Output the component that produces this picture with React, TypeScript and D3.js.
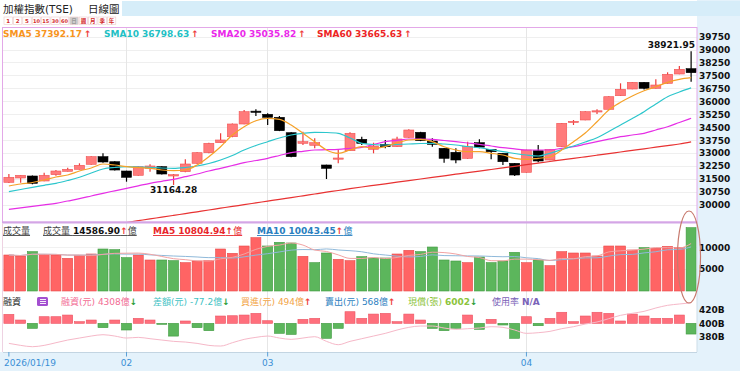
import React, { useEffect, useRef } from "react";
import * as d3 from "d3";

// 加權指數 日K，2026/01/19 起共 59 根
const opens = [31318, 31568, 31684, 31394, 31760, 31957, 32073, 32363, 32805, 32514, 31974, 31725, 32131, 32224, 31684, 31934, 32421, 33037, 33618, 33966, 34704, 35450, 35267, 35093, 34198, 33583, 33467, 32323, 32689, 33153, 33815, 33234, 33525, 33386, 33931, 34222, 33716, 33293, 33060, 32712, 33618, 33234, 33002, 32421, 31899, 33153, 32613, 33386, 34820, 34936, 35441, 35557, 36347, 36736, 37125, 36777, 37067, 37607, 37915];
const highs = [31800, 31740, 31713, 31876, 32032, 32166, 32421, 32830, 33002, 32540, 31990, 32250, 32363, 32250, 31800, 32654, 33060, 33610, 34164, 34730, 35517, 35557, 35325, 35168, 34220, 34257, 33873, 32340, 33194, 34222, 33966, 33618, 33775, 33966, 34396, 34250, 33873, 33310, 33293, 33676, 33815, 33250, 33020, 32440, 33210, 33484, 33250, 34760, 34936, 35440, 35557, 36310, 37067, 37140, 37140, 37299, 37706, 38072, 38921.95];
const lows = [31278, 31295, 31202, 31380, 31701, 31940, 32060, 32340, 32456, 32000, 31353, 31700, 31934, 31770, 31164.28, 31900, 32400, 33010, 33600, 33940, 34690, 35168, 34646, 34290, 32780, 33484, 33293, 31510, 32421, 33130, 33484, 33002, 33293, 33370, 33910, 33710, 33386, 32456, 32421, 32690, 33293, 32654, 32323, 31684, 31880, 32480, 32600, 33370, 34646, 34920, 35284, 35540, 36330, 36720, 36700, 36760, 37050, 37590, 37160];
const closes = [31609, 31725, 31260, 31725, 31974, 32073, 32305, 32805, 32497, 32032, 31609, 32224, 32265, 31800, 31760, 32381, 33037, 33583, 33775, 34704, 35418, 35430, 35093, 34315, 32805, 33676, 33618, 32131, 32729, 34164, 33583, 33426, 33386, 33833, 34355, 33734, 33525, 32712, 32613, 33386, 33360, 33095, 32514, 31742, 33194, 32555, 33234, 34744, 34860, 35418, 35470, 36289, 36719, 37125, 36777, 36968, 37590, 37880, 37683];

const sma5 = [31103, 31219, 31307, 31452, 31626, 31742, 31974, 32149, 32381, 32323, 32224, 32166, 32131, 32032, 31992, 32032, 32323, 32805, 33386, 34065, 34547, 34895, 35035, 34977, 34646, 34164, 33676, 33194, 33002, 33194, 33386, 33293, 33386, 33618, 33775, 33815, 33676, 33386, 33194, 33095, 33095, 33002, 32904, 32712, 32654, 32712, 32787, 33194, 33676, 34181, 34837, 35517, 35964, 36330, 36637, 36870, 37125, 37299, 37392.17];
const sma10 = [30772, 30900, 31028, 31144, 31260, 31423, 31609, 31858, 32091, 32178, 32224, 32207, 32189, 32149, 32131, 32178, 32265, 32410, 32613, 32874, 33194, 33455, 33676, 33891, 34065, 34164, 34222, 34210, 34164, 33891, 33583, 33513, 33484, 33513, 33542, 33571, 33583, 33542, 33484, 33397, 33327, 33211, 33095, 32991, 32904, 32845, 33002, 33223, 33426, 33658, 33908, 34268, 34646, 35023, 35418, 35865, 36289, 36562, 36798.63];
const sma20 = [29750, 29837, 29925, 30012, 30099, 30232, 30366, 30523, 30679, 30825, 30970, 31115, 31260, 31376, 31492, 31643, 31800, 31974, 32131, 32294, 32456, 32584, 32712, 32874, 33037, 33118, 33194, 33211, 33234, 33293, 33351, 33513, 33676, 33757, 33833, 33833, 33815, 33746, 33676, 33600, 33525, 33426, 33327, 33264, 33194, 33194, 33194, 33293, 33386, 33531, 33676, 33821, 33966, 34065, 34164, 34355, 34547, 34791, 35035.82];
const sma60 = [27939, 28043, 28148, 28252, 28357, 28461, 28566, 28670, 28775, 28879, 28984, 29088, 29193, 29292, 29396, 29501, 29605, 29710, 29814, 29919, 30017, 30122, 30226, 30331, 30430, 30534, 30639, 30743, 30842, 30947, 31045, 31138, 31231, 31324, 31417, 31510, 31603, 31696, 31789, 31881, 31969, 32061, 32154, 32247, 32340, 32433, 32526, 32619, 32706, 32799, 32892, 32985, 33078, 33171, 33264, 33356, 33449, 33542, 33665.63];

// 成交量 (億)，漲=1 跌=0
const volumes = [8294, 8064, 9062, 8448, 8294, 7526, 8141, 8525, 9677, 9523, 7680, 8294, 7142, 7142, 6989, 6528, 6912, 6989, 9677, 8678, 10368, 12288, 10368, 11213, 11059, 7987, 6528, 8755, 7296, 6989, 7910, 7603, 7603, 8525, 9370, 9062, 10138, 7142, 6912, 6528, 7834, 6528, 6912, 8909, 6528, 7142, 5837, 9062, 8755, 8755, 8064, 10368, 10368, 9446, 9984, 9830, 10291, 9984, 14586.9];
const volUp = [1, 1, 0, 1, 1, 1, 1, 1, 0, 0, 0, 1, 1, 0, 0, 1, 1, 1, 1, 1, 1, 1, 0, 0, 0, 1, 0, 0, 1, 1, 0, 0, 0, 1, 1, 0, 0, 0, 0, 1, 0, 0, 0, 0, 1, 0, 1, 1, 1, 1, 1, 1, 1, 1, 0, 1, 1, 1, 0];

// 融資增減 (億) 與 融資餘額 (B)
const marginChg = [65, 24, -36, 48, 48, 60, 12, 24, -31, 24, -48, 36, 24, -7, -92, 17, -31, -53, 53, 55, 60, 72, 19, -72, -80, 29, 36, -108, -36, 84, 36, 67, 72, 12, 67, 24, -36, -53, -36, 60, -43, 29, -12, -108, 48, -17, 36, 80, 12, 53, 80, 72, 17, 67, 53, 36, 36, 60, -77.2];
const marginBal = [370, 367, 365, 367, 371, 375, 378, 381, 383, 381, 378, 379, 377, 375, 373, 372, 370, 367, 366, 371, 376, 379, 381, 378, 376, 378, 380, 373, 368, 373, 377, 381, 385, 390, 394, 396, 396, 393, 391, 392, 393, 395, 394, 390, 385, 386, 388, 392, 395, 399, 402, 407, 412, 415, 418, 423, 427, 429, 430.8];

const priceTicks = [30000, 30750, 31500, 32250, 33000, 33750, 34500, 35250, 36000, 36750, 37500, 38250, 39000, 39750];
const volTicks = [5000, 10000];
const marginTicks = [380, 400, 420];
const dateTickIdx = [0, 10, 22, 44];
const dateTickLabels = ["2026/01/19", "02", "03", "04"];
const periodBtns = ["1", "2", "5", "10", "15", "30", "60", "日", "週", "月", "季", "年"];

const FONT = "'DejaVu Sans', 'Noto Sans CJK TC', sans-serif";
const RED = "#ee3b3b";
const GREEN = "#2e9e3a";

export default function App() {
  const ref = useRef<SVGSVGElement>(null);

  useEffect(() => {
    const svg = d3.select(ref.current);
    svg.selectAll("*").remove();
    svg.attr("font-family", FONT);

    const idx = d3.range(closes.length);
    const x = d3.scaleBand<number>().domain(idx).range([3, 697]).paddingInner(0.15).paddingOuter(0.075);
    const bw = x.bandwidth();
    const xc = (i: number) => (x(i) as number) + bw / 2;

    const yP = d3.scaleLinear().domain([30000, 39750]).range([205, 37.1]);
    const yV = d3.scaleLinear().domain([0, 10000]).range([291, 247.6]);
    const yB = d3.scaleLinear().domain([380, 420]).range([336.7, 310]);
    const yC = d3.scaleLinear().domain([-100, 100]).range([337.2, 309.5]);

    // backgrounds
    svg.append("rect").attr("width", 740).attr("height", 371).attr("fill", "#e4f2fb");
    svg.append("rect").attr("width", 697).attr("height", 352).attr("fill", "#fff");
    svg.append("rect").attr("x", 122).attr("y", 1).attr("width", 618).attr("height", 15).attr("fill", "#d6edf9");

    // header
    svg.append("text").attr("x", 3).attr("y", 13).attr("font-size", 10.5).attr("fill", "#222").text("加權指數(TSE)");
    svg.append("text").attr("x", 88).attr("y", 13).attr("font-size", 10.5).attr("fill", "#222").text("日線圖");

    const btn = svg.append("g");
    periodBtns.forEach((b, i) => {
      const bx = 4 + i * 9.4;
      btn.append("rect").attr("x", bx).attr("y", 17).attr("width", 8.4).attr("height", 7.5)
        .attr("fill", i === 7 ? "#cfcfcf" : "#fff").attr("stroke", "#ecc9c9").attr("stroke-width", 0.6);
      btn.append("text").attr("x", bx + 4.2).attr("y", 23.2).attr("text-anchor", "middle")
        .attr("font-size", b.length > 1 ? 5 : 5.5).attr("font-weight", "bold")
        .attr("fill", i === 7 ? "#999" : "#d42a2a").text(b);
    });

    // grid
    const grid = svg.append("g");
    priceTicks.forEach(t => {
      grid.append("line").attr("x1", 3).attr("x2", 697).attr("y1", yP(t)).attr("y2", yP(t))
        .attr("stroke", "#efefef").attr("shape-rendering", "crispEdges");
    });
    volTicks.forEach(t => {
      grid.append("line").attr("x1", 3).attr("x2", 697).attr("y1", yV(t)).attr("y2", yV(t))
        .attr("stroke", "#f1f1f1").attr("shape-rendering", "crispEdges");
    });
    dateTickIdx.slice(1).forEach(i => {
      grid.append("line").attr("x1", xc(i)).attr("x2", xc(i)).attr("y1", 28).attr("y2", 352)
        .attr("stroke", "#e6e6e6").attr("shape-rendering", "crispEdges");
    });

    // main panel
    svg.append("clipPath").attr("id", "mainClip").append("rect")
      .attr("x", 3).attr("y", 28).attr("width", 694).attr("height", 194);
    const main = svg.append("g").attr("clip-path", "url(#mainClip)");

    const candle = main.selectAll("g.c").data(idx).enter().append("g").attr("class", "c");
    candle.append("line")
      .attr("x1", i => xc(i)).attr("x2", i => xc(i))
      .attr("y1", i => yP(highs[i])).attr("y2", i => yP(lows[i]))
      .attr("stroke", i => closes[i] >= opens[i] ? RED : "#000").attr("stroke-width", 1.2);
    candle.append("rect")
      .attr("x", i => x(i) as number).attr("width", bw)
      .attr("y", i => yP(Math.max(opens[i], closes[i])))
      .attr("height", i => Math.max(1.2, Math.abs(yP(opens[i]) - yP(closes[i]))))
      .attr("fill", i => closes[i] >= opens[i] ? "#ff7b7b" : "#000")
      .attr("stroke", i => closes[i] >= opens[i] ? "#f05252" : "#000").attr("stroke-width", 0.6);

    const pline = d3.line<number>().x((_, i) => xc(i)).y(d => yP(d)).curve(d3.curveMonotoneX);
    [[sma60, "#e83232"], [sma20, "#e62ee6"], [sma10, "#2cc6cc"], [sma5, "#f5a128"]].forEach(([arr, c]) => {
      main.append("path").attr("d", pline(arr as number[])).attr("fill", "none")
        .attr("stroke", c as string).attr("stroke-width", 1.2);
    });

    svg.append("text").attr("x", 695).attr("y", 48).attr("text-anchor", "end")
      .attr("font-size", 9).attr("font-weight", "bold").attr("fill", "#111").text("38921.95");
    svg.append("text").attr("x", xc(14)).attr("y", 193).attr("text-anchor", "middle")
      .attr("font-size", 9).attr("font-weight", "bold").attr("fill", "#111").text("31164.28");

    svg.append("rect").attr("x", 2.5).attr("y", 27.5).attr("width", 694.5).attr("height", 194.5)
      .attr("fill", "none").attr("stroke", "#e3a8e8");
    svg.append("line").attr("x1", 2).attr("x2", 697.5).attr("y1", 222.5).attr("y2", 222.5)
      .attr("stroke", "#d3a6e6").attr("stroke-width", 1.8);

    // legend
    const legend = [
      ["SMA5 37392.17", "#f7941d", 3], ["SMA10 36798.63", "#1fc0c4", 104],
      ["SMA20 35035.82", "#ea28ea", 211], ["SMA60 33665.63", "#ec2424", 317],
    ];
    legend.forEach(([t, c, lx]) => {
      const tx = svg.append("text").attr("x", lx as number).attr("y", 37)
        .attr("font-size", 9).attr("font-weight", "bold");
      tx.append("tspan").attr("fill", c as string).text(t as string);
      tx.append("tspan").attr("fill", RED).attr("dx", 2).text("↑");
    });

    // right axes
    const axisTxt = (v: string, y: number) =>
      svg.append("text").attr("x", 699).attr("y", y).attr("dy", "0.35em")
        .attr("font-size", 9).attr("font-weight", "bold").attr("fill", "#111").text(v);
    priceTicks.forEach(t => axisTxt(String(t), yP(t)));
    volTicks.forEach(t => axisTxt(String(t), yV(t)));
    marginTicks.forEach(t => axisTxt(t + "B", yB(t)));

    // volume panel
    svg.append("g").selectAll("rect").data(idx).enter().append("rect")
      .attr("x", i => x(i) as number).attr("width", bw)
      .attr("y", i => yV(volumes[i])).attr("height", i => yV(0) - yV(volumes[i]))
      .attr("fill", i => volUp[i] ? "#ff6464" : "#5cb65c")
      .attr("stroke", i => volUp[i] ? "#e84a4a" : "#3f9a3f").attr("stroke-width", 0.6);

    const movAvg = (n: number) => volumes.map((_, i) => d3.mean(volumes.slice(Math.max(0, i - n + 1), i + 1)) as number);
    const vline = d3.line<number>().x((_, i) => xc(i)).y(d => yV(d)).curve(d3.curveMonotoneX);
    svg.append("path").attr("d", vline(movAvg(10))).attr("fill", "none").attr("stroke", "#8fb9da").attr("stroke-width", 1);
    svg.append("path").attr("d", vline(movAvg(5))).attr("fill", "none").attr("stroke", "#f2a3a3").attr("stroke-width", 1);

    const vt = (lx: number) => svg.append("text").attr("x", lx).attr("y", 234).attr("font-size", 9)
      .style("text-decoration", "underline");
    vt(3).attr("fill", "#444").text("成交量");
    const v1 = vt(43).attr("fill", "#444");
    v1.append("tspan").text("成交量 ");
    v1.append("tspan").attr("font-weight", "bold").attr("fill", "#111").text("14586.90");
    v1.append("tspan").attr("fill", RED).attr("font-weight", "bold").text("↑");
    v1.append("tspan").text("億");
    const v2 = vt(153).attr("fill", "#e8262b");
    v2.append("tspan").attr("font-weight", "bold").text("MA5 10804.94");
    v2.append("tspan").attr("font-weight", "bold").text("↑");
    v2.append("tspan").text("億");
    const v3 = vt(257).attr("fill", "#2a7fc0");
    v3.append("tspan").attr("font-weight", "bold").text("MA10 10043.45");
    v3.append("tspan").attr("font-weight", "bold").attr("fill", RED).text("↑");
    v3.append("tspan").text("億");

    // margin panel
    svg.append("g").selectAll("rect").data(idx).enter().append("rect")
      .attr("x", i => x(i) as number).attr("width", bw)
      .attr("y", i => Math.min(yC(marginChg[i]), yC(0)))
      .attr("height", i => Math.abs(yC(marginChg[i]) - yC(0)))
      .attr("fill", i => marginChg[i] >= 0 ? "#ff6f7c" : "#5cb65c")
      .attr("stroke", i => marginChg[i] >= 0 ? "#ec5462" : "#3f9a3f").attr("stroke-width", 0.6);

    const bline = d3.line<number>().x((_, i) => xc(i)).y(d => yB(d)).curve(d3.curveMonotoneX);
    svg.append("path").attr("d", bline(marginBal)).attr("fill", "none").attr("stroke", "#f6b8c8").attr("stroke-width", 1);

    svg.append("text").attr("x", 3).attr("y", 305).attr("font-size", 9).attr("fill", "#222").text("融資");
    const icon = svg.append("g");
    icon.append("rect").attr("x", 37).attr("y", 297).attr("width", 11).attr("height", 9).attr("rx", 1.5).attr("fill", "#a34fd0");
    [299.5, 301.5, 303.5].forEach(ly => {
      icon.append("line").attr("x1", 40).attr("x2", 46).attr("y1", ly).attr("y2", ly).attr("stroke", "#fff").attr("stroke-width", 0.9);
    });
    const mItems: [string, string, string, string, boolean][] = [
      ["融資(元) ", "4308億", "↓", "#f26b93", false],
      ["差額(元) ", "-77.2億", "↓", "#3fc2c4", false],
      ["買進(元) ", "494億", "↑", "#f2a446", false],
      ["賣出(元) ", "568億", "↑", "#2e7fbf", false],
      ["現償(張) ", "6002", "↓", "#8cc43c", true],
      ["使用率 ", "N/A", "", "#7a62b8", true],
    ];
    const mx = [61, 153, 241, 325, 408, 492];
    mItems.forEach(([lab, val, arr, c, bold], k) => {
      const t = svg.append("text").attr("x", mx[k]).attr("y", 305).attr("font-size", 9).attr("fill", c);
      t.append("tspan").text(lab);
      t.append("tspan").attr("font-weight", bold ? "bold" : "normal").text(val);
      if (arr) t.append("tspan").attr("font-weight", "bold").attr("fill", arr === "↑" ? RED : GREEN).text(arr);
    });

    // panel borders
    svg.append("line").attr("x1", 697).attr("x2", 697).attr("y1", 223).attr("y2", 352).attr("stroke", "#cddde8");
    svg.append("line").attr("x1", 2.5).attr("x2", 2.5).attr("y1", 223).attr("y2", 352).attr("stroke", "#eed2e2");
    svg.append("line").attr("x1", 3).attr("x2", 697).attr("y1", 352.5).attr("y2", 352.5).attr("stroke", "#c3d5e2");

    // date axis
    dateTickIdx.forEach((i, k) => {
      svg.append("line").attr("x1", xc(i)).attr("x2", xc(i)).attr("y1", 352).attr("y2", 356.5)
        .attr("stroke", "#5b9fd6");
      svg.append("text").attr("x", k === 0 ? 4 : xc(i)).attr("y", 366)
        .attr("text-anchor", k === 0 ? "start" : "middle")
        .attr("font-size", 9).attr("fill", "#3a8fd6").text(dateTickLabels[k]);
    });

    // hand-drawn highlight
    svg.append("ellipse").attr("cx", 689).attr("cy", 257).attr("rx", 11.5).attr("ry", 46)
      .attr("fill", "none").attr("stroke", "#c77a6e").attr("stroke-width", 1.2);
  }, []);

  return <svg ref={ref} width={740} height={371} style={{ position: "absolute", left: 0, top: 0 }} />;
}
